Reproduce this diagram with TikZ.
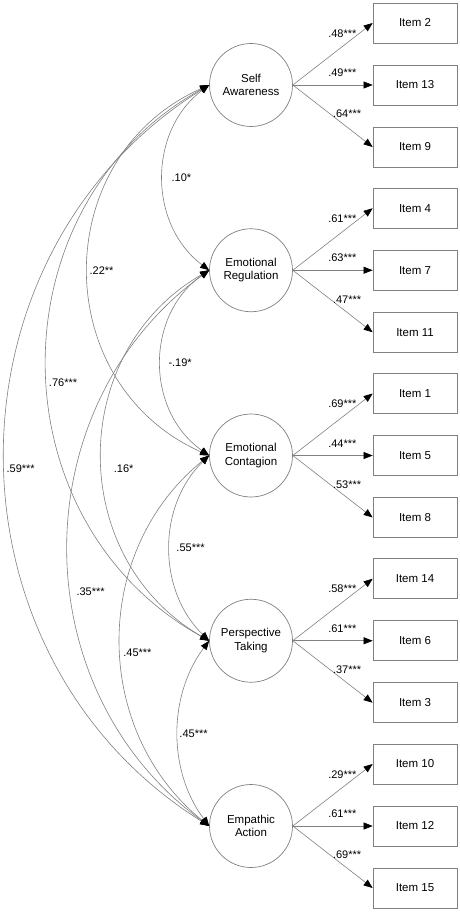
\documentclass[tikz,border=0pt]{standalone}
\usepackage{fontspec}
\setmainfont{Liberation Sans}
\usetikzlibrary{arrows.meta}
\definecolor{linegray}{RGB}{128,128,128}

\begin{document}
\begin{tikzpicture}[x=1pt, y=1pt,
    lat/.style={circle, draw=linegray, line width=0.7pt, minimum size=83pt, inner sep=0pt, align=center, font=\fontsize{11.5}{13.5}\selectfont},
    item/.style={rectangle, draw=linegray, line width=0.7pt, minimum width=84pt, minimum height=40pt, font=\fontsize{11.5}{13.5}\selectfont},
    load/.style={draw=linegray, line width=0.6pt, -{Triangle[length=9pt, width=7pt, black]}},
    cov/.style={draw=linegray, line width=0.6pt, {Triangle[length=9pt, width=7pt, black]}-{Triangle[length=9pt, width=7pt, black]}},
    lbl/.style={font=\fontsize{11}{12}\selectfont, inner sep=1pt}]
    \useasboundingbox (0,0) rectangle (459,-912);
    % latent factors
    \node[lat] (sa) at (251,-85) {Self\\Awareness};
    \node[lat] (er) at (251,-270.25) {Emotional\\Regulation};
    \node[lat] (ec) at (251,-455.5) {Emotional\\Contagion};
    \node[lat] (pt) at (251,-640.75) {Perspective\\Taking};
    \node[lat] (ea) at (251,-826) {Empathic\\Action};
    % items
    \node[item] (i2) at (415,-23) {Item 2};
    \node[item] (i13) at (415,-85) {Item 13};
    \node[item] (i9) at (415,-147) {Item 9};
    \node[item] (i4) at (415,-208.25) {Item 4};
    \node[item] (i7) at (415,-270.25) {Item 7};
    \node[item] (i11) at (415,-332.25) {Item 11};
    \node[item] (i1) at (415,-393.5) {Item 1};
    \node[item] (i5) at (415,-455.5) {Item 5};
    \node[item] (i8) at (415,-517.5) {Item 8};
    \node[item] (i14) at (415,-578.75) {Item 14};
    \node[item] (i6) at (415,-640.75) {Item 6};
    \node[item] (i3) at (415,-702.75) {Item 3};
    \node[item] (i10) at (415,-764) {Item 10};
    \node[item] (i12) at (415,-826) {Item 12};
    \node[item] (i15) at (415,-888) {Item 15};
    % loadings
    \draw[load] (sa.east) -- node[lbl, pos=0.62, above=8pt] {.48***} (i2.west);
    \draw[load] (sa.east) -- node[lbl, pos=0.62, above=7pt] {.49***} (i13.west);
    \draw[load] (sa.east) -- node[lbl, pos=0.68, above=8pt] {.64***} (i9.west);
    \draw[load] (er.east) -- node[lbl, pos=0.62, above=8pt] {.61***} (i4.west);
    \draw[load] (er.east) -- node[lbl, pos=0.62, above=7pt] {.63***} (i7.west);
    \draw[load] (er.east) -- node[lbl, pos=0.68, above=8pt] {.47***} (i11.west);
    \draw[load] (ec.east) -- node[lbl, pos=0.62, above=8pt] {.69***} (i1.west);
    \draw[load] (ec.east) -- node[lbl, pos=0.62, above=7pt] {.44***} (i5.west);
    \draw[load] (ec.east) -- node[lbl, pos=0.68, above=8pt] {.53***} (i8.west);
    \draw[load] (pt.east) -- node[lbl, pos=0.62, above=8pt] {.58***} (i14.west);
    \draw[load] (pt.east) -- node[lbl, pos=0.62, above=7pt] {.61***} (i6.west);
    \draw[load] (pt.east) -- node[lbl, pos=0.68, above=8pt] {.37***} (i3.west);
    \draw[load] (ea.east) -- node[lbl, pos=0.62, above=8pt] {.29***} (i10.west);
    \draw[load] (ea.east) -- node[lbl, pos=0.62, above=7pt] {.61***} (i12.west);
    \draw[load] (ea.east) -- node[lbl, pos=0.68, above=8pt] {.69***} (i15.west);
    % covariances
    \draw[cov] (sa.west) to[bend right=53, looseness=1.06] node[lbl, right=7pt] {.10*} (er.west);
    \draw[cov] (sa.west) to[bend right=66, looseness=1.22] node[lbl, right=0pt] {.22**} (ec.west);
    \draw[cov] (sa.west) to[bend right=61, looseness=1.14] node[lbl, pos=0.53, right=0pt] {.76***} (pt.west);
    \draw[cov] (sa.west) to[bend right=58, looseness=1.11] node[lbl, pos=0.515, right=0pt] {.59***} (ea.west);
    \draw[cov] (er.west) to[bend right=55, looseness=1.08] node[lbl, right=6pt] {-.19*} (ec.west);
    \draw[cov] (er.west) to[bend right=60, looseness=1.14] node[lbl, pos=0.53, right=10pt] {.16*} (pt.west);
    \draw[cov] (er.west) to[bend right=54, looseness=1.07] node[lbl, pos=0.57, right=4pt] {.35***} (ea.west);
    \draw[cov] (ec.west) to[bend right=46, looseness=1.0] node[lbl, right=5pt] {.55***} (pt.west);
    \draw[cov] (ec.west) to[bend right=51, looseness=1.05] node[lbl, pos=0.53, right=1pt] {.45***} (ea.west);
    \draw[cov] (pt.west) to[bend right=37, looseness=0.95] node[lbl, right=0pt] {.45***} (ea.west);
\end{tikzpicture}
\end{document}
